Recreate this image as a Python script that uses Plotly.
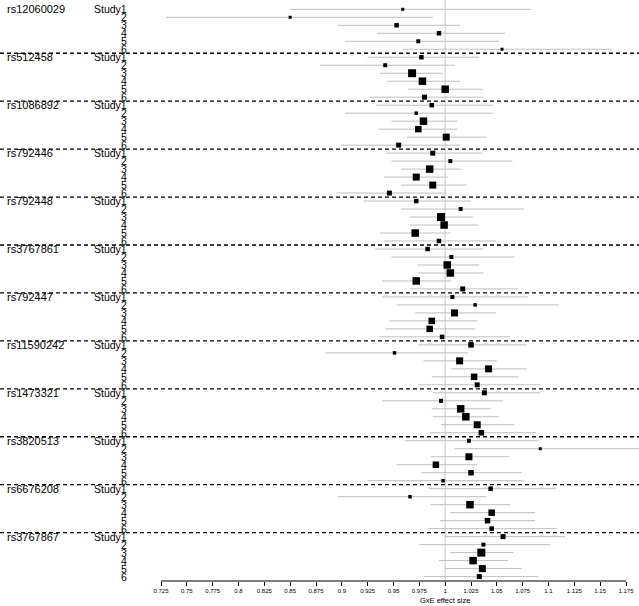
import plotly.graph_objects as go

snps = ["rs12060029", "rs512458", "rs1086892", "rs792446", "rs792448", "rs3767861",
        "rs792447", "rs11590242", "rs1473321", "rs3820513", "rs6676208", "rs3767867"]
studies = ["Study1", "2", "3", "4", "5", "6"]

est = [
    [0.959, 0.850, 0.953, 0.994, 0.974, 1.055],
    [0.977, 0.942, 0.968, 0.978, 1.000, 0.980],
    [0.987, 0.972, 0.979, 0.974, 1.001, 0.955],
    [0.988, 1.005, 0.985, 0.972, 0.988, 0.946],
    [0.972, 1.015, 0.996, 0.999, 0.971, 0.994],
    [0.983, 1.006, 1.002, 1.005, 0.972, 1.017],
    [1.007, 1.029, 1.009, 0.987, 0.985, 0.997],
    [1.025, 0.951, 1.014, 1.042, 1.028, 1.031],
    [1.038, 0.996, 1.015, 1.020, 1.031, 1.035],
    [1.023, 1.092, 1.023, 0.991, 1.025, 0.998],
    [1.044, 0.966, 1.024, 1.045, 1.041, 1.045],
    [1.056, 1.037, 1.035, 1.027, 1.036, 1.033],
]
lower = [
    [0.850, 0.730, 0.896, 0.934, 0.903, 0.958],
    [0.925, 0.879, 0.937, 0.944, 0.964, 0.927],
    [0.933, 0.903, 0.948, 0.936, 0.963, 0.899],
    [0.943, 0.948, 0.957, 0.941, 0.957, 0.895],
    [0.921, 0.957, 0.966, 0.966, 0.937, 0.941],
    [0.932, 0.948, 0.973, 0.973, 0.939, 0.966],
    [0.939, 0.953, 0.971, 0.946, 0.942, 0.936],
    [0.974, 0.884, 0.979, 1.006, 0.987, 0.974],
    [0.988, 0.939, 0.987, 0.988, 0.996, 0.985],
    [0.961, 1.009, 0.986, 0.953, 0.977, 0.925],
    [0.984, 0.896, 0.986, 1.005, 0.995, 0.984],
    [1.000, 0.975, 1.005, 0.994, 1.000, 0.979],
]
upper = [
    [1.083, 0.988, 1.014, 1.058, 1.052, 1.161],
    [1.033, 1.009, 0.998, 1.014, 1.037, 1.037],
    [1.046, 1.046, 1.012, 1.012, 1.040, 1.015],
    [1.036, 1.065, 1.015, 1.003, 1.021, 1.001],
    [1.025, 1.076, 1.027, 1.032, 1.005, 1.049],
    [1.037, 1.067, 1.033, 1.037, 1.006, 1.070],
    [1.080, 1.110, 1.049, 1.031, 1.029, 1.063],
    [1.079, 1.022, 1.050, 1.079, 1.071, 1.092],
    [1.092, 1.056, 1.044, 1.052, 1.067, 1.088],
    [1.090, 1.190, 1.062, 1.031, 1.074, 1.076],
    [1.107, 1.040, 1.063, 1.087, 1.087, 1.108],
    [1.116, 1.102, 1.066, 1.061, 1.074, 1.090],
]
weight_size = [
    [3, 3, 4.5, 4.5, 4, 3],
    [4.5, 4, 8, 7.5, 7.5, 5],
    [4.5, 3.5, 7.5, 6.5, 7, 5],
    [5, 4, 7.5, 7, 7, 5],
    [4.5, 4, 8, 7.5, 7.5, 4.5],
    [4.5, 4, 7.5, 7.5, 7.5, 5],
    [4, 3.5, 7, 6.5, 6.5, 4.5],
    [5.5, 3.5, 7, 7, 6.5, 5],
    [5, 4, 7.5, 7.5, 7, 5.5],
    [4, 3, 7, 6.5, 5.5, 3.5],
    [4.5, 3.5, 7.5, 6.5, 5.5, 4.5],
    [5, 4, 8, 7.5, 7, 5],
]
tick_vals = [0.725, 0.75, 0.775, 0.8, 0.825, 0.85, 0.875, 0.9, 0.925, 0.95, 0.975,
             1.0, 1.025, 1.05, 1.075, 1.1, 1.125, 1.15, 1.175]
tick_text = ["0.725", "0.75", "0.775", "0.8", "0.825", "0.85", "0.875", "0.9", "0.925",
             "0.95", "0.975", "1", "1.025", "1.05", "1.075", "1.1", "1.125", "1.15", "1.175"]
x_title = "GxE effect size"

W, H = 639, 606
FONT = "Liberation Sans, Arial, sans-serif"
n_st = len(studies)

xs, ys, em, ep, sz = [], [], [], [], []
for g in range(len(snps)):
    for s in range(n_st):
        e = est[g][s]
        xs.append(e)
        ys.append(g * n_st + s)
        em.append(e - lower[g][s])
        ep.append(upper[g][s] - e)
        sz.append(weight_size[g][s])

fig = go.Figure()
fig.add_trace(go.Scatter(
    x=xs, y=ys, mode="markers",
    marker=dict(symbol="square", size=sz, color="black", opacity=1, line=dict(width=0)),
    error_x=dict(type="data", symmetric=False, array=ep, arrayminus=em,
                 color="#bebebe", thickness=1, width=0),
    showlegend=False, hoverinfo="x+y",
))

shapes = []
shapes.append(dict(type="line", xref="x", yref="paper", x0=1, x1=1, y0=0, y1=1,
                   line=dict(color="#c8c8c8", width=1), layer="below"))
for g in range(1, len(snps)):
    yy = g * n_st - 0.5
    shapes.append(dict(type="line", xref="paper", yref="y", x0=0, x1=1, y0=yy, y1=yy,
                       line=dict(color="black", width=1.3, dash="4px,3px")))
shapes.append(dict(type="line", xref="x", yref="paper", x0=tick_vals[0], x1=tick_vals[-1],
                   y0=0, y1=0, line=dict(color="black", width=1)))

annotations = []
for g, name in enumerate(snps):
    annotations.append(dict(text=name, xref="paper", yref="y", x=5 / W, y=g * n_st,
                            xanchor="left", yanchor="middle", showarrow=False,
                            font=dict(family=FONT, size=11, color="black")))
    for s, lab in enumerate(studies):
        annotations.append(dict(text=lab, xref="paper", yref="y", x=129 / W, y=g * n_st + s,
                                xanchor="right", yanchor="middle", showarrow=False,
                                font=dict(family=FONT, size=10.5, color="black")))
annotations.append(dict(text=x_title, xref="x", yref="paper", x=1.0, y=0, yshift=-13,
                        xanchor="center", yanchor="top", showarrow=False,
                        font=dict(family=FONT, size=7.5, color="black")))

px_per_unit = (626 - 161) / (tick_vals[-1] - tick_vals[0])
x_lo = tick_vals[0] - 161 / px_per_unit
x_hi = tick_vals[-1] + (W - 626) / px_per_unit

bottom = 25
plot_h = H - bottom
row_px = 7.99
top_row_y = 9.3
y_top = -top_row_y / row_px
y_bot = y_top + plot_h / row_px

fig.update_layout(
    width=W, height=H,
    margin=dict(l=0, r=0, t=0, b=bottom, pad=0),
    paper_bgcolor="white", plot_bgcolor="white",
    font=dict(family=FONT, color="black"),
    shapes=shapes, annotations=annotations,
    hovermode=False,
    xaxis=dict(range=[x_lo, x_hi], tickmode="array", tickvals=tick_vals, ticktext=tick_text,
               ticks="outside", ticklen=4, tickwidth=1, tickcolor="black",
               tickfont=dict(family=FONT, size=6, color="black"),
               showline=False, showgrid=False, zeroline=False, fixedrange=True),
    yaxis=dict(range=[y_bot, y_top], showticklabels=False, ticks="", showline=False,
               showgrid=False, zeroline=False, fixedrange=True),
)

fig.write_html("out.html", config={"displayModeBar": False},
               post_script="document.body.style.margin='0';document.body.style.overflow='hidden';")
